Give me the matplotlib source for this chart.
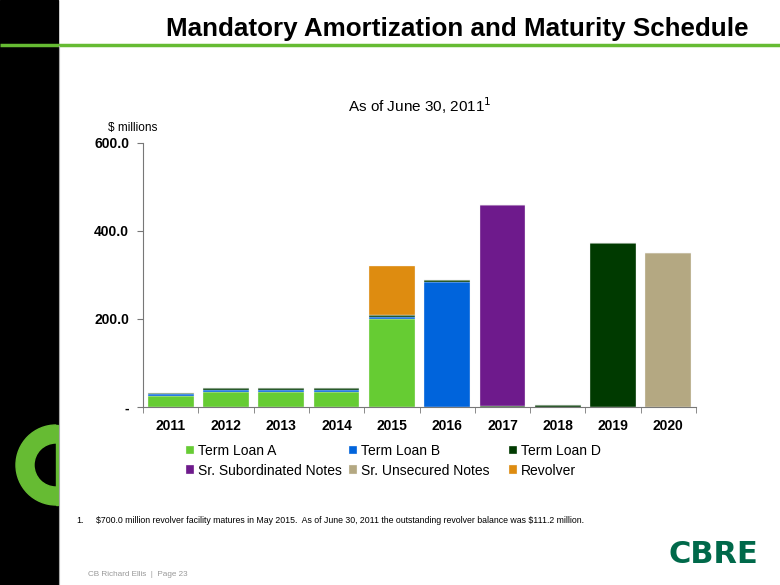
import numpy as np
import matplotlib.pyplot as plt
from matplotlib.patches import Rectangle, Wedge

years = ['2011', '2012', '2013', '2014', '2015', '2016', '2017', '2018', '2019', '2020']
term_loan_a = [25, 35, 35, 35, 201, 0, 0, 0, 0, 0]
term_loan_b = [4.4, 4.4, 4.4, 4.4, 4.4, 285, 0, 0, 0, 0]
term_loan_d = [1.5, 3, 3, 3, 3, 3, 3, 4, 373, 0]
sr_sub_notes = [0, 0, 0, 0, 0, 0, 455, 0, 0, 0]
sr_unsec_notes = [0, 0, 0, 0, 0, 0, 0, 0, 0, 350]
revolver = [0, 0, 0, 0, 111.2, 0, 0, 0, 0, 0]

series = [
    ('Term Loan A', term_loan_a, '#66cc33'),
    ('Term Loan B', term_loan_b, '#0064dc'),
    ('Term Loan D', term_loan_d, '#003a00'),
    ('Sr. Subordinated Notes', sr_sub_notes, '#6e1a8c'),
    ('Sr. Unsecured Notes', sr_unsec_notes, '#b4a882'),
    ('Revolver', revolver, '#de8c10'),
]

plt.rcParams['font.family'] = ['Liberation Sans', 'DejaVu Sans']

fig = plt.figure(figsize=(7.8, 5.85), dpi=100)

# slide decoration in pixel coordinates
bg = fig.add_axes([0, 0, 1, 1], zorder=0)
bg.set_xlim(0, 780)
bg.set_ylim(585, 0)
bg.axis('off')
bg.add_patch(Rectangle((0, 0), 58, 585, color='black'))
bg.plot([0, 780], [44.5, 44.5], color='#66bb33', lw=2.5, solid_capstyle='butt')
bg.add_patch(Wedge((56, 465), 40, 90, 270, width=18, color='#66bb33'))
bg.add_patch(Rectangle((56, 425), 2, 80, color='#66bb33'))
bg.plot([58.5, 58.5], [46, 585], color='#aaaaaa', lw=0.8)

fig.text(748 / 780, 1 - 36 / 585, 'Mandatory Amortization and Maturity Schedule',
         ha='right', va='baseline', fontsize=18.7, fontweight='bold')

# chart
ax = fig.add_axes([143 / 780, 1 - 407 / 585, (696 - 143) / 780, (407 - 143) / 585], zorder=1)
x = np.arange(len(years))
bottom = np.zeros(len(years))
handles = {}
for name, vals, col in series:
    vals = np.array(vals, dtype=float)
    b = ax.bar(x, vals, 0.83, bottom=bottom, color=col, edgecolor='#f4f4f4',
               linewidth=0.25, label=name)
    handles[name] = b
    bottom += vals

ax.set_xlim(-0.5, len(years) - 0.5)
ax.set_ylim(0, 600)
ax.set_yticks([0, 200, 400, 600])
ax.set_yticklabels(['-', '200.0', '400.0', '600.0'], fontsize=10, fontweight='bold')
ax.set_xticks(x)
ax.set_xticklabels(years, fontsize=10, fontweight='bold')
ax.set_xticks(np.arange(-0.5, len(years)), minor=True)
ax.tick_params(axis='x', which='major', length=0, pad=9)
ax.tick_params(axis='x', which='minor', length=4, color='#777777')
ax.tick_params(axis='y', length=4, color='#777777', pad=6)
for s in ['top', 'right']:
    ax.spines[s].set_visible(False)
for s in ['left', 'bottom']:
    ax.spines[s].set_color('#777777')

fig.text(420 / 780, 1 - 112 / 585, 'As of June 30, 2011$^1$', ha='center', va='baseline', fontsize=11)
fig.text(108 / 780, 1 - 131 / 585, '\\$ millions', ha='left', va='baseline', fontsize=8.5)

# legend: three columns placed at the reference positions
columns = [['Term Loan A', 'Sr. Subordinated Notes'],
           ['Term Loan B', 'Sr. Unsecured Notes'],
           ['Term Loan D', 'Revolver']]
col_x = [186, 349, 509]
for names, cx in zip(columns, col_x):
    fig.legend([handles[n] for n in names], names, loc='upper left',
               bbox_to_anchor=(cx / 780, 1 - 444 / 585), frameon=False,
               fontsize=10, handlelength=0.55, handleheight=0.55, handletextpad=0.3,
               labelspacing=0.4, borderpad=0, borderaxespad=0)

fig.text(76 / 780, 1 - 523 / 585, '1.', fontsize=6.3, va='baseline')
fig.text(96 / 780, 1 - 523 / 585,
         '\\$700.0 million revolver facility matures in May 2015.  As of June 30, 2011 the outstanding revolver balance was \\$111.2 million.',
         fontsize=6.3, va='baseline')
fig.text(88 / 780, 1 - 576 / 585, 'CB Richard Ellis  |  Page 23', fontsize=5.9, color='#999999', va='baseline')
fig.text(758 / 780, 1 - 563 / 585, 'CBRE', ha='right', va='baseline', fontsize=22,
         fontweight='bold', color='#00694a', family=['DejaVu Sans'])

fig.savefig('out.png', dpi=100)
